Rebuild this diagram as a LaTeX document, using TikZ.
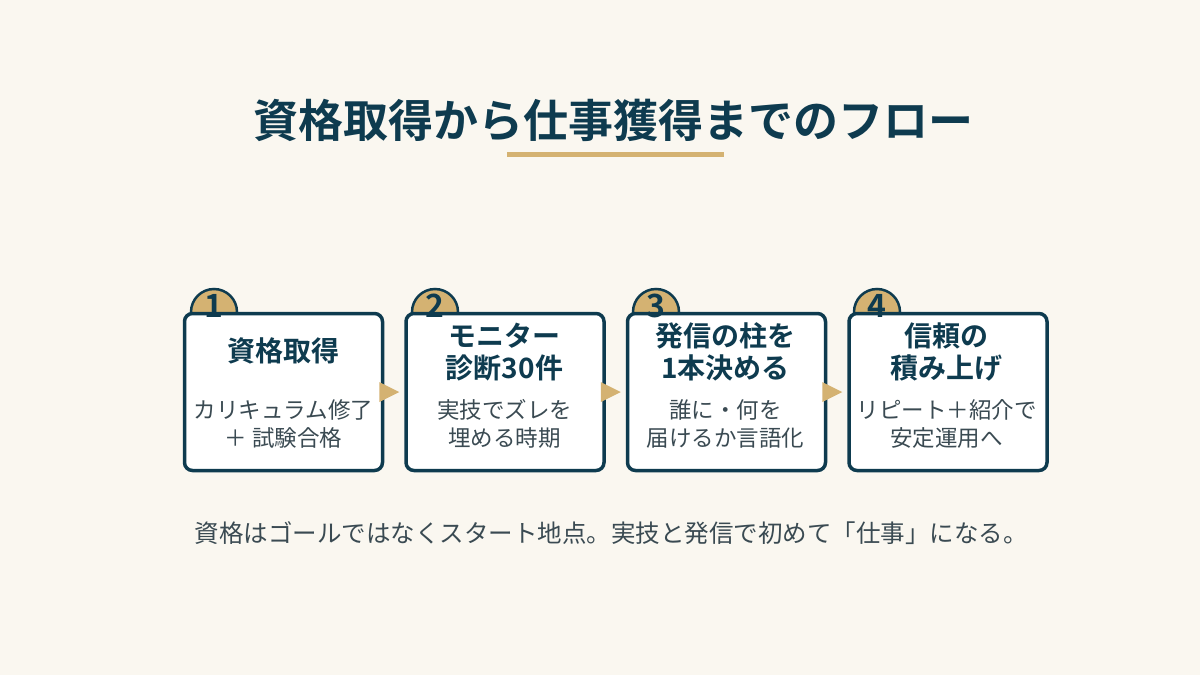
\documentclass[tikz,border=0pt]{standalone}
\usepackage{fontspec}
\setmainfont{Noto Sans CJK JP}
\newfontfamily\cjkbold{Noto Sans CJK JP Bold}
\usetikzlibrary{positioning}
\definecolor{paper}{HTML}{FAF7F0}
\definecolor{navy}{HTML}{0E3B4F}
\definecolor{gold}{HTML}{D4B272}
\definecolor{ink}{HTML}{3A4A52}

\begin{document}
\begin{tikzpicture}[x=1pt,y=-1pt,node distance=20pt,
		step box/.style={draw=navy,line width=3.5pt,fill=white,rounded corners=8pt,minimum width=198pt,minimum height=157pt,inner sep=0pt},
		badge/.style={circle,fill=gold,draw=navy,line width=2.5pt,minimum size=46pt,inner sep=0pt},
		badge num/.style={font=\cjkbold\fontsize{32}{32}\selectfont,text=navy},
		head/.style={font=\cjkbold\fontsize{28}{32}\selectfont,text=navy,align=center},
		body/.style={font=\fontsize{22.5}{28}\selectfont,text=ink,align=center},
		tip/.style={fill=gold}]

	\fill[paper] (0,0) rectangle (1200,675);
	\useasboundingbox (0,0) rectangle (1200,675);

	\node[font=\cjkbold\fontsize{45}{45}\selectfont,text=navy] (title) at (613,120) {資格取得から仕事獲得までのフロー};
	\draw[gold,line width=5pt] (507,154) -- (724,154);

	% badges first, boxes on top
	\foreach \n/\x in {1/214,2/435,3/656,4/877}
		\node[badge] (c\n) at (\x,312) {};

	\node[step box] (s1) at (283.5,392) {};
	\node[step box,right=20pt of s1] (s2) {};
	\node[step box,right=20pt of s2] (s3) {};
	\node[step box,right=20pt of s3] (s4) {};

	\foreach \n/\x in {1/214,2/435,3/656,4/877}
		\node[badge num] at (\x,306) {\n};

	\node[head] at (283.5,351) {資格取得};
	\node[head] at (504.5,352) {モニター\\診断30件};
	\node[head] at (725.5,352) {発信の柱を\\1本決める};
	\node[head] at (946.5,352) {信頼の\\積み上げ};

	\node[body] at (283.5,424) {カリキュラム修了\\＋ 試験合格};
	\node[body] at (504.5,424) {実技でズレを\\埋める時期};
	\node[body] at (725.5,424) {誰に・何を\\届けるか言語化};
	\node[body] at (946.5,424) {リピート＋紹介で\\安定運用へ};

	% arrows between boxes
	\foreach \a/\b in {s1/s2,s2/s3,s3/s4}
		\fill[tip] ([xshift=-5pt]\a.east) ++(0,-10) -- ++(20,10) -- ++(-20,10) -- cycle;

	\node[font=\fontsize{24.5}{24.5}\selectfont,text=ink] (note) at (611,533) {資格はゴールではなくスタート地点。実技と発信で初めて「仕事」になる。};
\end{tikzpicture}
\end{document}
